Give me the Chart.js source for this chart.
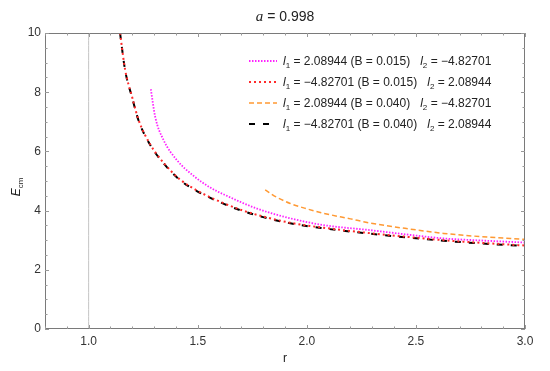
<!DOCTYPE html>
<html><head><meta charset="utf-8">
<script src="https://cdn.jsdelivr.net/npm/chart.js@4"></script>
<style>html,body{margin:0;padding:0;background:#fff}</style>
</head><body>
<canvas id="c" width="550" height="371"></canvas>
<script>
// ---- data ----
const chartTitleVar = "a";
const chartTitleValue = " = 0.998";
const xAxisLabel = "r";
const yAxisLabelMain = "E";
const yAxisLabelSub = "cm";

const xTicks = [1.0, 1.5, 2.0, 2.5, 3.0];
const yTicks = [0, 2, 4, 6, 8, 10];

const horizonR = [1.0, 1.0];
const horizonE = [0, 10];

// l1 = 2.08944 (B = 0.015)
const rMagenta = [1.285, 1.305, 1.343, 1.404, 1.48, 1.557, 1.633, 1.771, 1.924, 2.077, 2.29, 2.45, 2.627, 2.80, 3.0];
const eMagenta = [8.1, 7.17, 6.39, 5.71, 5.18, 4.78, 4.50, 4.07, 3.74, 3.51, 3.34, 3.20, 3.06, 2.99, 2.92];

// l1 = -4.82701 (B = 0.015)
const rRed = [1.144, 1.167, 1.20, 1.228, 1.282, 1.343, 1.419, 1.496, 1.603, 1.70, 1.80, 1.924, 2.077, 2.275, 2.45, 2.627, 2.80, 3.0];
const eRed = [10, 8.77, 7.82, 7.08, 6.24, 5.62, 5.05, 4.68, 4.30, 4.02, 3.80, 3.59, 3.42, 3.25, 3.12, 3.00, 2.91, 2.82];

// l1 = 2.08944 (B = 0.040)
const rOrange = [1.809, 1.85, 1.924, 2.0, 2.077, 2.2, 2.29, 2.45, 2.627, 2.80, 3.0];
const eOrange = [4.70, 4.50, 4.24, 4.06, 3.91, 3.72, 3.58, 3.40, 3.23, 3.12, 3.03];

// l1 = -4.82701 (B = 0.040)
const rBlack = [1.144, 1.167, 1.20, 1.228, 1.282, 1.343, 1.419, 1.496, 1.603, 1.70, 1.80, 1.924, 2.077, 2.275, 2.45, 2.627, 2.80, 3.0];
const eBlack = [10, 8.75, 7.8, 7.06, 6.22, 5.6, 5.03, 4.66, 4.28, 4.0, 3.78, 3.57, 3.40, 3.23, 3.10, 2.98, 2.89, 2.80];

const legendL1 = ["2.08944", "\u22124.82701", "2.08944", "\u22124.82701"];
const legendB = ["0.015", "0.015", "0.040", "0.040"];
const legendL2 = ["\u22124.82701", "2.08944", "\u22124.82701", "2.08944"];

const pts = (xs, ys) => xs.map((x, i) => ({x: x, y: ys[i]}));

const SANS = "'Liberation Sans', Arial, sans-serif";
const FRAME = "#7a7a7a";

const curveStyles = [
  {color: "#ff22ff", dash: [1.5, 1.5], width: 1.8},
  {color: "#ff2a2a", dash: [2, 3], width: 2},
  {color: "#ff9933", dash: [5, 3], width: 1.5},
  {color: "#000000", dash: [6, 8], width: 2}
];

const decorPlugin = {
  id: "decor",
  afterDraw(chart) {
    const ctx = chart.ctx;
    const a = chart.chartArea;
    const xs = chart.scales.x, ys = chart.scales.y;
    ctx.save();
    // frame
    ctx.strokeStyle = FRAME;
    ctx.lineWidth = 1;
    ctx.strokeRect(a.left + 0.5, a.top + 0.5, a.right - a.left - 1, a.bottom - a.top - 1);
    // ticks (inward, all four sides)
    ctx.strokeStyle = "#999";
    ctx.beginPath();
    for (let v = 0.8; v <= 3.0001; v += 0.1) {
      const px = Math.round(xs.getPixelForValue(v)) + 0.5;
      const major = Math.abs(v * 2 - Math.round(v * 2)) < 1e-6;
      const L = major ? 4 : 2.5;
      ctx.moveTo(px, a.bottom); ctx.lineTo(px, a.bottom - L);
      ctx.moveTo(px, a.top); ctx.lineTo(px, a.top + L);
    }
    for (let v = 0; v <= 10.0001; v += 0.5) {
      const py = Math.round(ys.getPixelForValue(v)) + 0.5;
      const major = Math.abs(v / 2 - Math.round(v / 2)) < 1e-6;
      const L = major ? 4 : 2.5;
      ctx.moveTo(a.left, py); ctx.lineTo(a.left + L, py);
      ctx.moveTo(a.right, py); ctx.lineTo(a.right - L, py);
    }
    ctx.stroke();

    ctx.fillStyle = "#222";
    ctx.textBaseline = "alphabetic";
    // title
    ctx.font = "italic 15px 'Liberation Serif', serif";
    const tw1 = ctx.measureText(chartTitleVar).width;
    ctx.font = "14px " + SANS;
    const tw2 = ctx.measureText(chartTitleValue).width;
    let tx = (a.left + a.right) / 2 - (tw1 + tw2) / 2;
    ctx.font = "italic 15px 'Liberation Serif', serif";
    ctx.fillText(chartTitleVar, tx, 21);
    ctx.font = "14px " + SANS;
    ctx.fillText(chartTitleValue, tx + tw1, 21);

    // x label
    ctx.font = "12px " + SANS;
    ctx.textAlign = "center";
    ctx.fillText(xAxisLabel, (a.left + a.right) / 2, 362);
    ctx.textAlign = "left";

    // y label
    ctx.save();
    ctx.translate(20, 187);
    ctx.rotate(-Math.PI / 2);
    ctx.font = "italic 12px " + SANS;
    const ew = ctx.measureText(yAxisLabelMain).width;
    ctx.font = "8px " + SANS;
    const cw = ctx.measureText(yAxisLabelSub).width;
    const sx = -(ew + cw) / 2;
    ctx.font = "italic 12px " + SANS;
    ctx.fillText(yAxisLabelMain, sx, 0);
    ctx.font = "8px " + SANS;
    ctx.fillText(yAxisLabelSub, sx + ew, 3);
    ctx.restore();

    // legend
    const rowsY = [61, 82, 103, 124];
    for (let i = 0; i < 4; i++) {
      const st = curveStyles[i];
      const y = rowsY[i];
      ctx.save();
      ctx.strokeStyle = st.color;
      ctx.lineWidth = st.width;
      ctx.setLineDash(st.dash);
      ctx.beginPath();
      ctx.moveTo(249, y); ctx.lineTo(277, y);
      ctx.stroke();
      ctx.restore();
      let x = 283;
      const by = y + 4;
      const seg = (txt, font, dy) => {
        ctx.font = font;
        ctx.fillText(txt, x, by + (dy || 0));
        x += ctx.measureText(txt).width;
      };
      seg("l", "italic 12px " + SANS);
      seg("1", "8px " + SANS, 3);
      seg(" = " + legendL1[i] + " (B = " + legendB[i] + ")   ", "12px " + SANS);
      seg("l", "italic 12px " + SANS);
      seg("2", "8px " + SANS, 3);
      seg(" = " + legendL2[i], "12px " + SANS);
    }
    ctx.restore();
  }
};

const datasets = [
  {data: pts(rMagenta, eMagenta), borderColor: curveStyles[0].color, borderDash: curveStyles[0].dash, borderWidth: curveStyles[0].width},
  {data: pts(rRed, eRed), borderColor: curveStyles[1].color, borderDash: curveStyles[1].dash, borderWidth: curveStyles[1].width},
  {data: pts(rOrange, eOrange), borderColor: curveStyles[2].color, borderDash: curveStyles[2].dash, borderWidth: curveStyles[2].width},
  {data: pts(rBlack, eBlack), borderColor: curveStyles[3].color, borderDash: curveStyles[3].dash, borderWidth: curveStyles[3].width},
  {data: pts(horizonR, horizonE), borderColor: "#c4c4c4", borderWidth: 1, tension: 0}
].map(d => Object.assign({pointRadius: 0, fill: false, cubicInterpolationMode: "monotone", showLine: true}, d));

new Chart(document.getElementById("c"), {
  type: "line",
  data: {datasets: datasets},
  options: {
    responsive: false,
    animation: false,
    devicePixelRatio: 1,
    layout: {padding: {top: 33, right: 25, left: 0, bottom: 0}},
    plugins: {legend: {display: false}, tooltip: {enabled: false}, title: {display: false}},
    scales: {
      x: {
        type: "linear", min: 0.8, max: 3.0,
        afterBuildTicks: s => { s.ticks = xTicks.map(v => ({value: v})); },
        afterFit: s => { s.height = 371 - 329; },
        grid: {display: false, drawTicks: false},
        border: {display: false},
        ticks: {padding: 5, color: "#333", font: {family: SANS, size: 12}, callback: v => Number(v).toFixed(1), maxRotation: 0, autoSkip: false}
      },
      y: {
        type: "linear", min: 0, max: 10,
        afterBuildTicks: s => { s.ticks = yTicks.map(v => ({value: v})); },
        afterFit: s => { s.width = 45; },
        grid: {display: false, drawTicks: false},
        border: {display: false},
        ticks: {padding: 4, color: "#333", font: {family: SANS, size: 12}, callback: v => String(v)}
      }
    }
  },
  plugins: [decorPlugin]
});
</script>
</body></html>
